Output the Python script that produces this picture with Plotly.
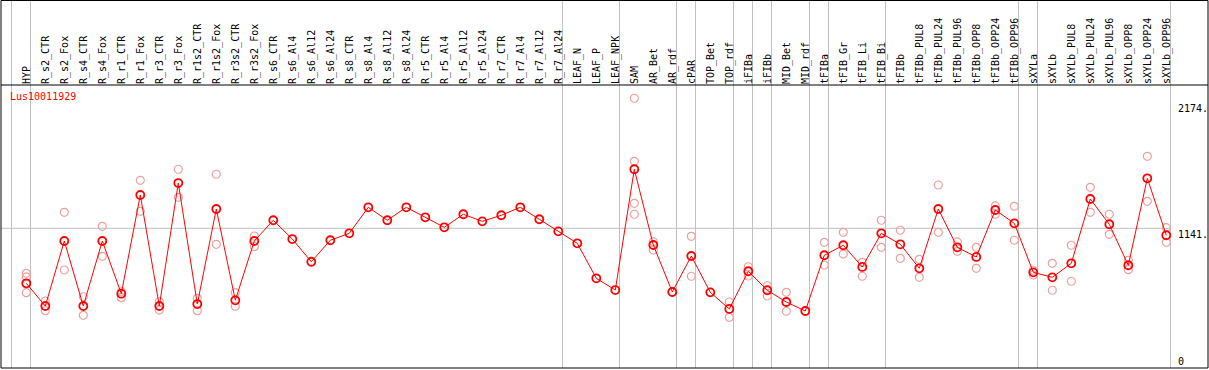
import plotly.graph_objects as go

categories = [
    "HYP", "R_s2_CTR", "R_s2_Fox", "R_s4_CTR", "R_s4_Fox", "R_r1_CTR", "R_r1_Fox",
    "R_r3_CTR", "R_r3_Fox", "R_r1s2_CTR", "R_r1s2_Fox", "R_r3s2_CTR", "R_r3s2_Fox",
    "R_s6_CTR", "R_s6_Al4", "R_s6_Al12", "R_s6_Al24", "R_s8_CTR", "R_s8_Al4",
    "R_s8_Al12", "R_s8_Al24", "R_r5_CTR", "R_r5_Al4", "R_r5_Al12", "R_r5_Al24",
    "R_r7_CTR", "R_r7_Al4", "R_r7_Al12", "R_r7_Al24", "LEAF_N", "LEAF_P", "LEAF_NPK",
    "SAM", "AR_Bet", "AR_rdf", "cPAR", "TOP_Bet", "TOP_rdf", "iFIBa", "iFIBb",
    "MID_Bet", "MID_rdf", "tFIBa", "tFIB_Gr", "tFIB_Li", "tFIB_Bi", "tFIBb",
    "tFIBb_PUL8", "tFIBb_PUL24", "tFIBb_PUL96", "tFIBb_OPP8", "tFIBb_OPP24",
    "tFIBb_OPP96", "sXYLa", "sXYLb", "sXYLb_PUL8", "sXYLb_PUL24", "sXYLb_PUL96",
    "sXYLb_OPP8", "sXYLb_OPP24", "sXYLb_OPP96",
]

mean_values = [
    690, 504, 1037, 504, 1037, 605, 1414, 504, 1512, 520, 1299, 551, 1037,
    1207, 1053, 867, 1043, 1100, 1313, 1207, 1313, 1231, 1149, 1256, 1198,
    1248, 1313, 1215, 1116, 1018, 731, 635,
    1625, 1004, 619, 914, 616, 480, 789, 633, 537, 463, 920, 1002, 824, 1100,
    1010, 813, 1299, 985, 906, 1291, 1182, 780, 739, 854, 1381, 1174, 838, 1551, 1084,
]

replicates = [
    [772, 743, 685, 613], [545, 466], [1272, 799], [580, 428], [1157, 911],
    [572, 621], [1534, 1280], [539, 471], [1625, 1395], [567, 466],
    [1584, 1010], [613, 502], [1078, 990],
    [], [], [], [], [], [], [], [], [], [], [], [], [], [], [], [], [], [], [],
    [2207, 1690, 1346, 1256], [1031, 963], [619], [1075, 748], [616], [537, 411],
    [826, 750], [670, 586], [616, 461], [463], [1026, 840], [1108, 930],
    [862, 748], [1207, 985], [1125, 895], [887, 739], [1496, 1108], [1029, 952],
    [985, 813], [1324, 1256], [1321, 1043], [797, 758], [854, 633], [1002, 707],
    [1477, 1272], [1256, 1092], [879, 802], [1731, 1362], [1146, 1026],
]

separator_after = [-1, 0, 28, 31, 34, 35, 37, 38, 39, 41, 42, 45, 52, 53, 60]
y_tick_values = [0, 1141, 2174]
y_tick_labels = ["0", "1141.", "2174."]
gene_id = "Lus10011929"

W, H = 1209, 370
L, R, T, B = 1, 1, 85, 2
plot_w = W - L - R
plot_h = H - T - B
x_min, x_max = -1.3316, 62.195
y_min, y_max = -4.1, 2315.6
MONO = "DejaVu Sans Mono"

rep_x, rep_y = [], []
for cat, reps in zip(categories, replicates):
    for v in reps:
        rep_x.append(cat)
        rep_y.append(v)

fig = go.Figure()
fig.add_trace(go.Scatter(
    x=rep_x, y=rep_y, mode="markers",
    marker=dict(symbol="circle-open", size=8, color="#eea0a0", line=dict(width=1.2)),
    showlegend=False, hoverinfo="skip",
))
fig.add_trace(go.Scatter(
    x=categories, y=mean_values, mode="lines+markers",
    line=dict(color="#ff0000", width=1),
    marker=dict(symbol="circle-open", size=8, color="#ff0000", line=dict(width=1.8)),
    showlegend=False,
))

def px_to_paper_x(px):
    return (px - L) / plot_w

shapes = []
top_paper = 1 + (T - 0.5) / plot_h
for s in separator_after:
    xp = (s + 0.22 - x_min) / (x_max - x_min)
    shapes.append(dict(type="line", xref="paper", yref="paper", x0=xp, x1=xp,
                       y0=0, y1=top_paper, line=dict(color="#c0c0c0", width=1), layer="below"))
sep_right = (separator_after[-1] + 0.22 - x_min) / (x_max - x_min)
shapes.append(dict(type="line", xref="paper", yref="y", x0=0, x1=sep_right,
                   y0=y_tick_values[1], y1=y_tick_values[1],
                   line=dict(color="#c0c0c0", width=1), layer="below"))
shapes.append(dict(type="rect", xref="paper", yref="paper", x0=0, x1=1, y0=0, y1=top_paper,
                   line=dict(color="black", width=1)))
shapes.append(dict(type="line", xref="paper", yref="paper", x0=0, x1=1, y0=1, y1=1,
                   line=dict(color="black", width=1)))

annotations = []
for v, t in zip(y_tick_values, y_tick_labels):
    annotations.append(dict(
        xref="paper", yref="y", x=px_to_paper_x(1177), y=v, text=t, showarrow=False,
        xanchor="left", yanchor="bottom" if v == 0 else "top",
        font=dict(family=MONO, size=10, color="black"), borderpad=0,
    ))
annotations.append(dict(
    xref="paper", yref="paper", x=px_to_paper_x(9), y=(H - B - 96.7) / plot_h,
    text=gene_id, showarrow=False, xanchor="left", yanchor="middle",
    font=dict(family=MONO, size=10, color="#ff0000"), borderpad=0,
))

fig.update_layout(
    width=W, height=H,
    margin=dict(l=L, r=R, t=T, b=B, pad=0),
    paper_bgcolor="white", plot_bgcolor="white",
    shapes=shapes, annotations=annotations,
    xaxis=dict(
        type="category", categoryorder="array", categoryarray=categories,
        range=[x_min, x_max], side="top", tickangle=-90,
        tickfont=dict(family=MONO, size=10, color="black"),
        showgrid=False, zeroline=False, showline=False, ticks="",
        fixedrange=True,
    ),
    yaxis=dict(
        range=[y_min, y_max], showgrid=False, zeroline=False, showline=False,
        showticklabels=False, ticks="", fixedrange=True,
    ),
)

fig.write_html(
    "out.html",
    config={"displayModeBar": False},
    post_script="document.body.style.margin='0';document.body.style.overflow='hidden';",
)
